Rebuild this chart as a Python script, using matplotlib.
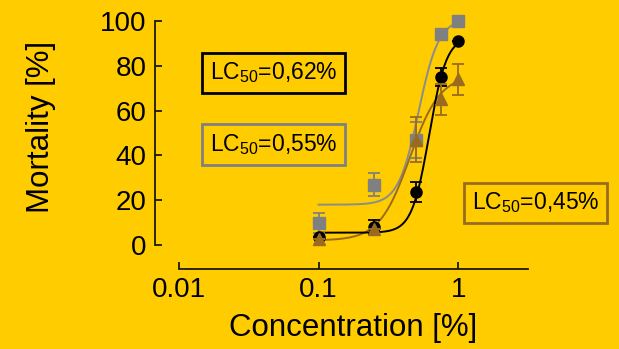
import numpy as np
import matplotlib
matplotlib.use("Agg")
import matplotlib.pyplot as plt

plt.rcParams['font.family'] = ['Liberation Sans', 'DejaVu Sans']
plt.rcParams['mathtext.default'] = 'regular'

# measured mortality (mean, error) at each concentration
conc = [0.1, 0.25, 0.5, 0.75, 1.0]
mort_black = [3.5, 8, 23.5, 75, 91]
err_black = [0, 3, 4.5, 4, 0]
mort_gray = [10, 27, 47, 94, 100]
err_gray = [4.5, 5, 8, 0, 0]
mort_brown = [2.5, 7, 47, 65, 74]
err_brown = [0, 0, 10, 7, 7]

# dose-response fit parameters: bottom, top, LC50, hill slope
fit_black = (5.5, 93, 0.62, 7)
fit_gray = (18, 101, 0.52, 6)
fit_brown = (2, 76, 0.45, 4)

bg = '#FFCC00'
c_black = '#000000'
c_gray = '#808080'
c_brown = '#9A6B1E'


def hill(x, bottom, top, lc50, h):
    return bottom + (top - bottom) / (1 + (lc50 / x) ** h)


fig = plt.figure(figsize=(6.19, 3.49), dpi=100, facecolor=bg)
ax = fig.add_axes([179 / 619, 104 / 349, 349 / 619, 224 / 349])
ax.set_facecolor(bg)

xs = np.logspace(-1, 0, 200)
ax.plot(xs, hill(xs, *fit_gray), color='#8c8c8c', lw=1.4, zorder=2)
ax.plot(xs, hill(xs, *fit_brown), color=c_brown, lw=1.4, zorder=2)
ax.plot(xs, hill(xs, *fit_black), color=c_black, lw=1.4, zorder=2)

eb = dict(capsize=4.5, elinewidth=1.3, capthick=1.3, ls='none', ms=8, clip_on=False)
ax.errorbar(conc, mort_gray, yerr=err_gray, marker='s', color=c_gray, zorder=3, **eb)
ax.errorbar(conc, mort_black, yerr=err_black, marker='o', color=c_black, zorder=4, **eb)
ax.errorbar(conc, mort_brown, yerr=err_brown, marker='^', color=c_brown, zorder=5, **eb)

ax.set_xscale('log')
ax.set_xlim(0.01, 10 ** 0.5)
ax.set_ylim(0, 100)
ax.set_xticks([0.01, 0.1, 1])
ax.set_xticklabels(['0.01', '0.1', '1'])
ax.minorticks_off()
ax.set_yticks([0, 20, 40, 60, 80, 100])

for s in ['top', 'right']:
    ax.spines[s].set_visible(False)
ax.spines['left'].set_position(('outward', 17.3))
ax.spines['bottom'].set_position(('outward', 17.3))
for s in ['left', 'bottom']:
    ax.spines[s].set_linewidth(1.3)
    ax.spines[s].set_color('#1a1a00')
ax.tick_params(direction='in', length=5, width=1.3, labelsize=20, pad=6, colors='#1a1a00')
ax.tick_params(labelcolor='black')

ax.set_xlabel('Concentration [%]', fontsize=22.5, labelpad=7)
ax.set_ylabel('Mortality [%]', fontsize=22.5)
ax.yaxis.set_label_coords(-0.353, 0.527)

box = dict(boxstyle='square,pad=0.35', fc=bg, lw=2)
fig.text(273.5 / 619, 1 - 73 / 349, 'LC$_{50}$=0,62%', fontsize=16.5, ha='center', va='center',
         bbox=dict(box, ec=c_black))
fig.text(273.5 / 619, 1 - 144.5 / 349, 'LC$_{50}$=0,55%', fontsize=16.5, ha='center', va='center',
         bbox=dict(box, ec=c_gray))
fig.text(535.5 / 619, 1 - 203 / 349, 'LC$_{50}$=0,45%', fontsize=16.5, ha='center', va='center',
         bbox=dict(box, ec=c_brown))

fig.savefig('out.png', dpi=100, facecolor=bg)
